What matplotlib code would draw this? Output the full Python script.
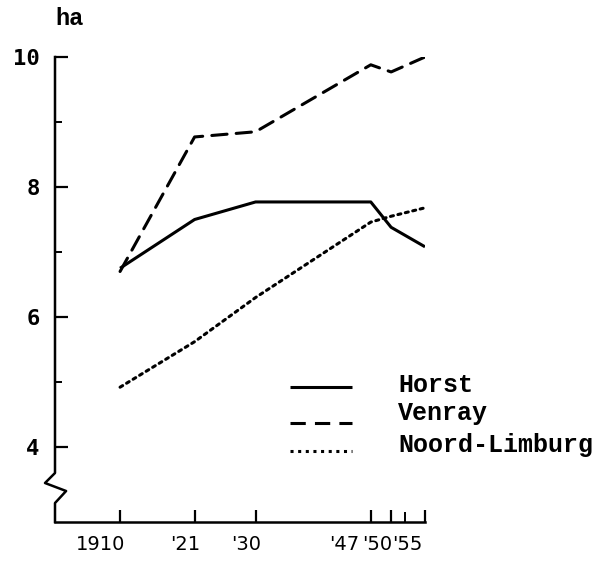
# line chart: average farm size (ha) for Horst, Venray and Noord-Limburg

import matplotlib.pyplot as plt
from matplotlib.lines import Line2D
from matplotlib.transforms import ScaledTranslation, blended_transform_factory

years = [1910, 1921, 1930, 1947, 1950, 1955]
year_labels = ["1910", "'21", "'30", "'47", "'50", "'55"]
horst = [6.75, 7.50, 7.77, 7.77, 7.38, 7.08]
venray = [6.70, 8.77, 8.85, 9.88, 9.77, 10.0]
noord_limburg = [4.92, 5.62, 6.30, 7.46, 7.55, 7.68]
series_names = ["Horst", "Venray", "Noord-Limburg"]

# typewriter look
ytick_font = dict(family="DejaVu Sans Mono", weight="bold", size=16)
xtick_font = dict(family="DejaVu Sans", size=14)
text_font = dict(family="Liberation Mono", weight="bold", size=18)
lw = 2.2
styles = ["-", (0, (5, 3)), (0, (1, 1.5))]

fig = plt.figure(figsize=(5.96, 5.63), dpi=100)
ax = fig.add_axes([55 / 596, 1 - 522 / 563, 370 / 596, 465 / 563])

for vals, ls in zip([horst, venray, noord_limburg], styles):
    ax.plot(years, vals, color="black", lw=lw, linestyle=ls,
            solid_capstyle="butt", dash_capstyle="round")

ax.set_xlim(1900.4, 1955)
ax.set_ylim(10 - 465 / 65, 10)

for s in ["top", "right", "left"]:
    ax.spines[s].set_visible(False)
ax.spines["bottom"].set_linewidth(1.8)

# left axis with a break (zigzag) below 4
trans = blended_transform_factory(ax.transAxes, ax.transData)
ax.add_line(Line2D([0, 0, -0.027, 0.030, 0, 0],
                   [10, 3.60, 3.446, 3.323, 3.138, 2.846],
                   transform=trans, color="black", lw=1.8, clip_on=False))

ax.set_yticks([4, 6, 8, 10])
ax.set_yticks([5, 7, 9], minor=True)
ax.set_yticklabels(["4", "6", "8", "10"], fontdict=ytick_font)
ax.tick_params(axis="y", which="major", direction="in", length=9, width=1.6, pad=11)
ax.tick_params(axis="y", which="minor", direction="in", length=5, width=1.4)

ax.set_xticks(years)
ax.set_xticks([1952], minor=True)
ax.set_xticklabels(year_labels, fontdict=xtick_font)
ax.tick_params(axis="x", which="major", direction="in", length=9, width=1.6, pad=9)
ax.tick_params(axis="x", which="minor", direction="in", length=7, width=1.4)

# the typed labels sit a little left of their ticks
shifts = [-14, -7, -7, -19, -10, -13]
for lab, dx in zip(ax.get_xticklabels(), shifts):
    lab.set_transform(lab.get_transform() + ScaledTranslation(dx / 72, 0, fig.dpi_scale_trans))

fig.text(55 / 596, 1 - 25 / 563, "ha", ha="left", va="baseline",
         fontdict=dict(text_font, size=17))

# hand-drawn legend
legend_y = [392, 420, 452]
line_y = [387, 423, 451]
for name, ls, ty, ly in zip(series_names, styles, legend_y, line_y):
    fig.add_artist(Line2D([290 / 596, 352 / 596], [1 - ly / 563] * 2,
                          transform=fig.transFigure, color="black", lw=lw,
                          linestyle=ls, solid_capstyle="butt"))
    fig.text(398 / 596, 1 - ty / 563, name, ha="left", va="baseline", fontdict=text_font)

plt.savefig("out.png", dpi=100)
plt.close()
